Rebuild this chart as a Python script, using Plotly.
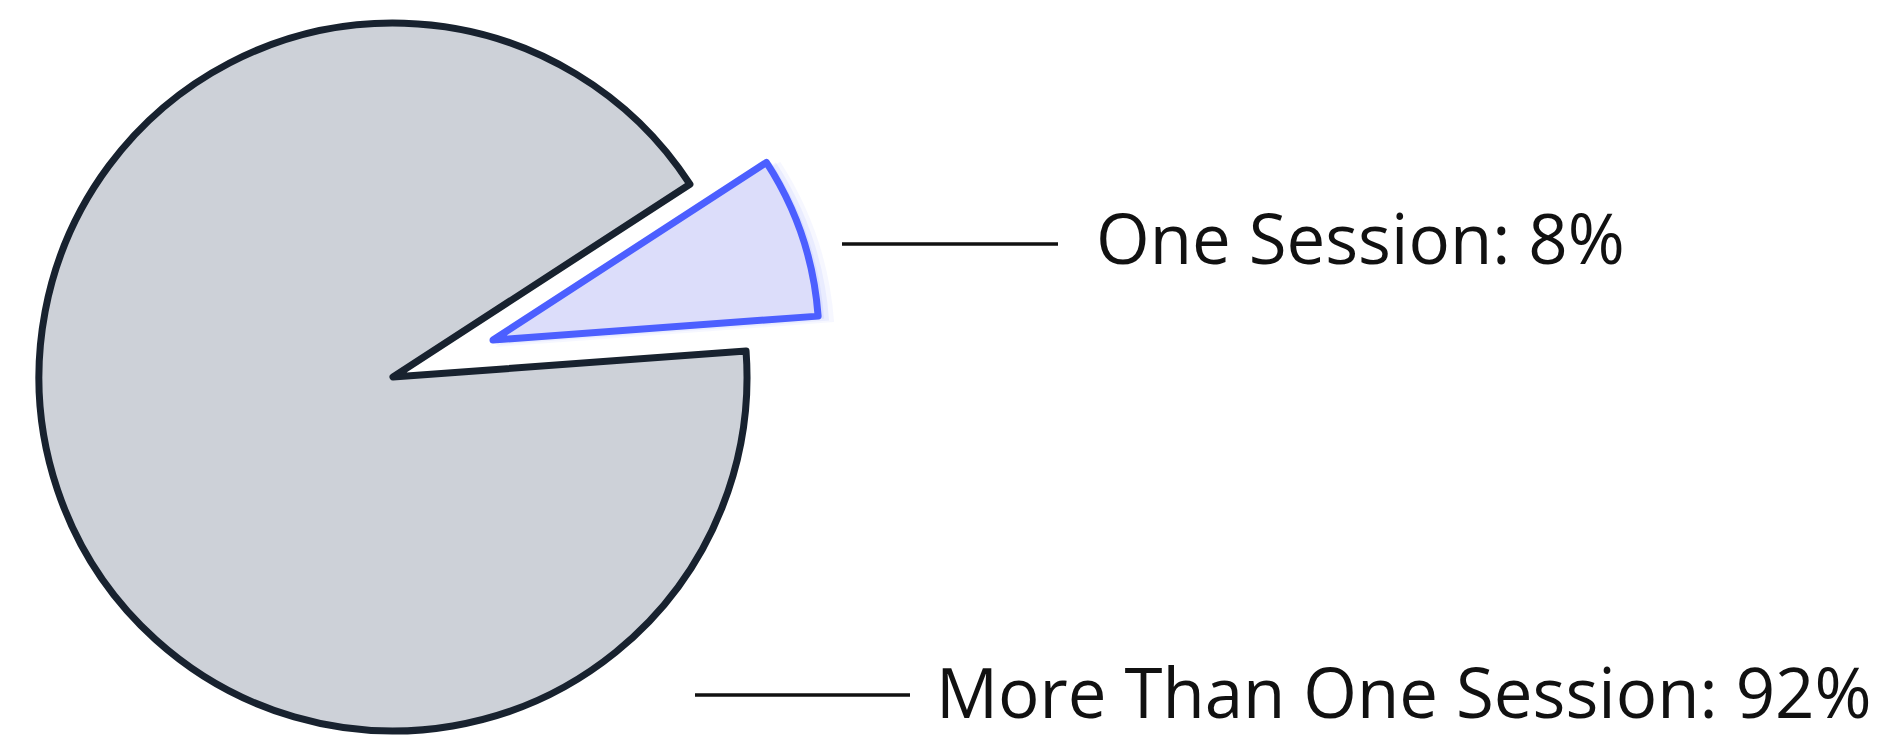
import plotly.graph_objects as go

# ---- data ----
labels = ["One Session", "More Than One Session"]
values = [8, 92]

W, H = 1885, 738

big_fill = "#CDD1D8"
big_line = "#18222F"
small_fill = "#DCDDFA"
small_line = "#4C5FFF"
clear = "rgba(0,0,0,0)"
rotation = 57


def dom(cx, cy, r):
    # pixel centre (from top-left) + radius -> paper domain
    return dict(x=[(cx - r) / W, (cx + r) / W],
                y=[(H - cy - r) / H, (H - cy + r) / H])


fig = go.Figure()

# big slice (92%)
fig.add_trace(go.Pie(
    labels=labels, values=values, sort=False, direction="clockwise",
    rotation=rotation, textinfo="none", hoverinfo="label+percent",
    marker=dict(colors=[clear, big_fill],
                line=dict(color=[clear, big_line], width=[0, 7])),
    domain=dom(393, 377, 354), showlegend=False,
))

# soft glow under small slice
for dx, dy, dr, a in [(2, 7, 14, 0.05), (2, 5, 9, 0.07), (1, 3, 5, 0.09)]:
    fig.add_trace(go.Pie(
        labels=labels, values=values, sort=False, direction="clockwise",
        rotation=rotation, textinfo="none", hoverinfo="skip",
        marker=dict(colors=[f"rgba(76,95,255,{a})", clear],
                    line=dict(width=0)),
        domain=dom(493 + dx, 340 + dy, 326 + dr), showlegend=False,
    ))

# small slice (8%), pulled out
fig.add_trace(go.Pie(
    labels=labels, values=values, sort=False, direction="clockwise",
    rotation=rotation, textinfo="none", hoverinfo="label+percent",
    marker=dict(colors=[small_fill, clear],
                line=dict(color=[small_line, clear], width=[7, 0])),
    domain=dom(493, 340, 326), showlegend=False,
))

# leader lines + labels
leaders = [
    dict(x0=842, x1=1058, y=244, tx=1094, ty=237),
    dict(x0=695, x1=910, y=695, tx=934, ty=691),
]
shapes = []
annotations = []
for lab, val, ld in zip(labels, values, leaders):
    shapes.append(dict(type="line", xref="paper", yref="paper",
                       x0=ld["x0"] / W, x1=ld["x1"] / W,
                       y0=1 - ld["y"] / H, y1=1 - ld["y"] / H,
                       line=dict(color="#111111", width=3.5)))
    annotations.append(dict(text=f"{lab}: {val}%", xref="paper", yref="paper",
                            x=ld["tx"] / W, y=1 - ld["ty"] / H,
                            xanchor="left", yanchor="middle", showarrow=False,
                            font=dict(family="Open Sans", size=69, color="#111111")))

fig.update_layout(
    width=W, height=H,
    margin=dict(l=0, r=0, t=0, b=0),
    paper_bgcolor="white", plot_bgcolor="white",
    shapes=shapes, annotations=annotations,
)

fig.write_html("out.html")
